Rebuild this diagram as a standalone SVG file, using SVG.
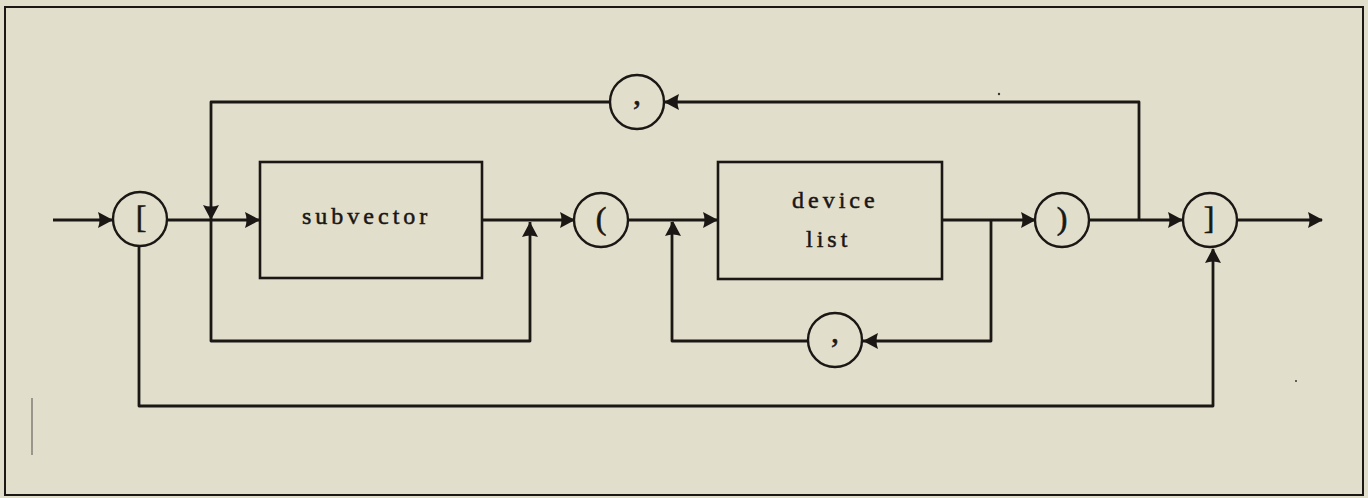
<svg xmlns="http://www.w3.org/2000/svg" xmlns:xlink="http://www.w3.org/1999/xlink" width="1368" height="498" viewBox="0 0 1368 498">
<style>
.ln{fill:none;stroke:#1b1714;stroke-width:2.8;stroke-linejoin:round}
.bx{fill:none;stroke:#1b1714;stroke-width:2.6}
.cc{fill:none;stroke:#1b1714;stroke-width:2.4}
.lbl{font-family:"Liberation Serif",serif;font-size:24px;fill:#1b1714;stroke:#1b1714;stroke-width:0.5;letter-spacing:4px}
.sym{font-family:"Liberation Serif",serif;font-size:32px;fill:#1b1714;stroke:#1b1714;stroke-width:0.6;text-anchor:middle}
.ah{fill:#1b1714}
</style>
<defs>
<path id="ah" d="M0,0 L-15,-8 Q-12,0 -15,8 Z"/>
</defs>
<rect x="0" y="0" width="1368" height="498" fill="#e1dfcb"/>
<rect x="5" y="7" width="1358" height="488" fill="none" stroke="#1b1714" stroke-width="2"/>
<line x1="32" y1="398" x2="32" y2="455" stroke="#6b6660" stroke-width="1.2"/>
<circle cx="999" cy="94" r="1.2" fill="#3a3632"/>
<circle cx="1296" cy="381" r="1" fill="#3a3632"/>

<g id="connectors">
<path class="ln" d="M53,220 H113"/>
<path class="ln" d="M168,220 H260"/>
<path class="ln" d="M482,220 H575"/>
<path class="ln" d="M628,220 H718"/>
<path class="ln" d="M942,220 H1036"/>
<path class="ln" d="M1089,220 H1183"/>
<path class="ln" d="M1238,220 H1322"/>
<path class="ln" d="M1139,220 V102 H664"/>
<path class="ln" d="M610,102 H211 V341 H530 V222"/>
<path class="ln" d="M991,220 V341 H862"/>
<path class="ln" d="M808,341 H672 V222"/>
<path class="ln" d="M139,247 V406 H1213 V249"/>
<g class="ah">
<use xlink:href="#ah" transform="translate(113,220)"/>
<use xlink:href="#ah" transform="translate(260,220)"/>
<use xlink:href="#ah" transform="translate(211,220) rotate(90)"/>
<use xlink:href="#ah" transform="translate(530,222) rotate(-90)"/>
<use xlink:href="#ah" transform="translate(575,220)"/>
<use xlink:href="#ah" transform="translate(718,220)"/>
<use xlink:href="#ah" transform="translate(673,221) rotate(-90)"/>
<use xlink:href="#ah" transform="translate(1036,220)"/>
<use xlink:href="#ah" transform="translate(1183,220)"/>
<use xlink:href="#ah" transform="translate(1323,220)"/>
<use xlink:href="#ah" transform="translate(664,102) rotate(180)"/>
<use xlink:href="#ah" transform="translate(863,341) rotate(180)"/>
<use xlink:href="#ah" transform="translate(1213,248) rotate(-90)"/>
</g>
</g>

<g id="lbracket">
<circle class="cc" cx="140" cy="219" r="27"/>
<text class="sym" x="141" y="228">[</text>
</g>
<g id="subvector">
<rect class="bx" x="260" y="162" width="222" height="116"/>
<text class="lbl" x="302" y="224">subvector</text>
</g>
<g id="lparen">
<circle class="cc" cx="601" cy="220" r="27"/>
<text class="sym" x="601" y="229">(</text>
</g>
<g id="devicelist">
<rect class="bx" x="718" y="162" width="224" height="117"/>
<text class="lbl" x="792" y="208">device</text>
<text class="lbl" x="806" y="247">list</text>
</g>
<g id="rparen">
<circle class="cc" cx="1062" cy="220" r="27"/>
<text class="sym" x="1062" y="229">)</text>
</g>
<g id="rbracket">
<circle class="cc" cx="1210" cy="220" r="27"/>
<text class="sym" x="1209" y="229">]</text>
</g>
<g id="comma-top">
<circle class="cc" cx="637" cy="102" r="27"/>
<text class="sym" x="637" y="104">,</text>
</g>
<g id="comma-bottom">
<circle class="cc" cx="835" cy="340" r="27"/>
<text class="sym" x="835" y="342">,</text>
</g>
</svg>
